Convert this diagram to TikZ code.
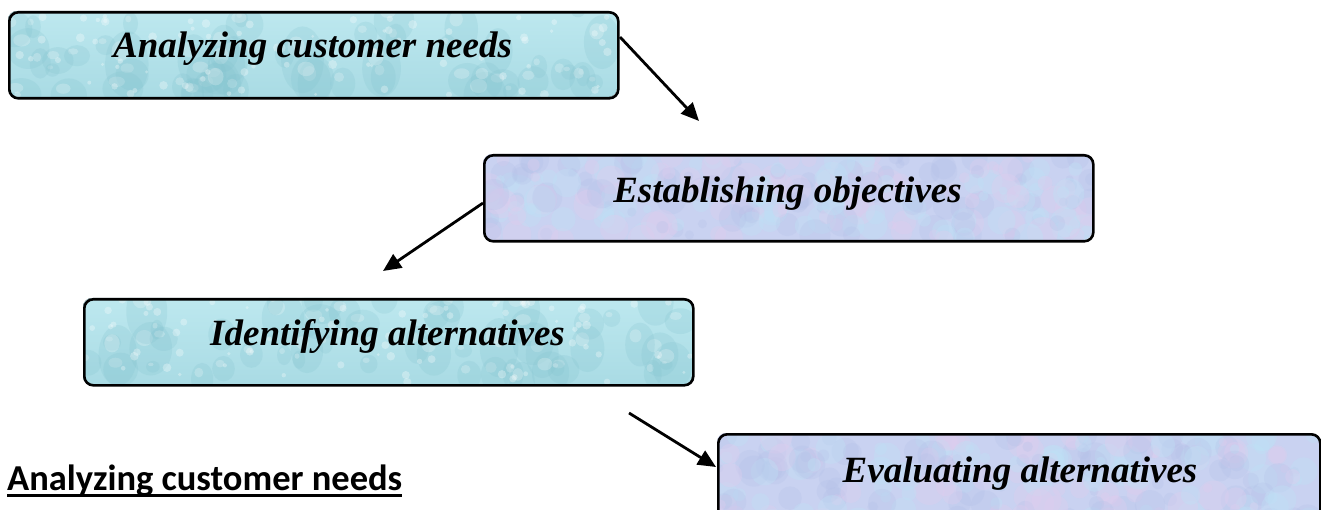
\documentclass[tikz,border=0pt]{standalone}
\usepackage{fontspec}
\setmainfont{Liberation Serif}
\newfontfamily\headfont{Carlito}
\usetikzlibrary{arrows.meta}

\definecolor{wtop}{HTML}{BDE8EF}
\definecolor{wbot}{HTML}{A9DBE4}
\definecolor{wdrop}{HTML}{82C2CE}
\definecolor{lbase}{HTML}{C9D2F1}
\definecolor{lpink}{HTML}{DFCDEE}
\definecolor{lcyan}{HTML}{BEE2F6}
\definecolor{lblue}{HTML}{B3C0E8}

% water-drop texture inside a rounded box
\newcommand\waterfill[4]{%
  \begin{scope}
    \clip[rounded corners=9pt] (#1,#2) rectangle (#3,#4);
    \fill[top color=wtop, bottom color=wbot] (#1,#2) rectangle (#3,#4);
    \foreach \k in {1,...,55}{%
      \pgfmathsetmacro\px{#1+(#3-#1)*rnd}%
      \pgfmathsetmacro\py{#2+(#4-#2)*rnd}%
      \pgfmathsetmacro\rx{6+16*rnd}%
      \pgfmathsetmacro\ry{\rx*(0.8+0.8*rnd)}%
      \fill[wdrop,opacity=0.22] (\px,\py) ellipse [x radius=\rx pt, y radius=\ry pt];
      \fill[white,opacity=0.22] (\px-0.3*\rx,\py-0.4*\ry) ellipse [x radius=0.4*\rx pt, y radius=0.3*\ry pt];
    }
    \foreach \k in {1,...,80}{%
      \pgfmathsetmacro\px{#1+(#3-#1)*rnd}%
      \pgfmathsetmacro\py{#2+(#4-#2)*rnd}%
      \pgfmathsetmacro\rr{1.5+3*rnd}%
      \fill[white,opacity=0.30] (\px,\py) circle [radius=\rr pt];
    }
  \end{scope}}

% pastel marble texture inside a rounded box
\newcommand\marblefill[4]{%
  \begin{scope}
    \clip[rounded corners=9pt] (#1,#2) rectangle (#3,#4);
    \fill[lbase] (#1,#2) rectangle (#3,#4);
    \foreach \k in {1,...,260}{%
      \pgfmathsetmacro\px{#1+(#3-#1)*rnd}%
      \pgfmathsetmacro\py{#2+(#4-#2)*rnd}%
      \pgfmathsetmacro\rr{4+12*rnd}%
      \pgfmathsetmacro\cc{int(3*rnd)}%
      \ifcase\cc
        \fill[lpink,opacity=0.35] (\px,\py) circle [radius=\rr pt];
      \or
        \fill[lcyan,opacity=0.35] (\px,\py) circle [radius=\rr pt];
      \else
        \fill[lblue,opacity=0.25] (\px,\py) circle [radius=\rr pt];
      \fi
    }
  \end{scope}}

\begin{document}
\begin{tikzpicture}[x=1pt,y=-1pt,
  stepbox/.style={draw=black, line width=2.6pt, rounded corners=9pt,
    anchor=north west, inner sep=0pt, minimum height=86pt},
  title/.style={font=\fontsize{37}{42}\selectfont\bfseries\itshape,
    inner sep=0pt, anchor=base},
  flow/.style={line width=2.8pt, -{Triangle[length=18pt,width=16pt]}},
  heading/.style={font=\headfont\bfseries\fontsize{36.5}{42}\selectfont,
    inner sep=0pt, anchor=base west}]
\useasboundingbox (0,0) rectangle (1321,510);
\clip (0,0) rectangle (1321,510);
\pgfmathsetseed{12}

% box fills
\waterfill{8}{11}{617}{97}
\marblefill{483}{154}{1092}{240}
\waterfill{83}{298}{692}{385}
\marblefill{717}{433}{1319}{530}

% box outlines
\node[stepbox, minimum width=609pt] (b1) at (8,11) {};
\node[stepbox, minimum width=609pt] (b2) at (483,154) {};
\node[stepbox, minimum width=609pt] (b3) at (83,298) {};
\node[stepbox, minimum width=602pt, minimum height=97pt] (b4) at (717,433) {};

% box titles
\node[title] (t1) at (312.5,58) {Analyzing customer needs};
\node[title] (t2) at (787.5,203) {Establishing objectives};
\node[title] (t3) at (387.5,345) {Identifying alternatives};
\node[title] (t4) at (1020,482) {Evaluating alternatives};

% arrows between the steps
\coordinate (a1s) at (620,37);
\coordinate (a1e) at (699,121);
\coordinate (a2s) at (483,203);
\coordinate (a2e) at (383,271);
\coordinate (a3s) at (629,413);
\coordinate (a3e) at (716,467);
\draw[flow] (a1s) -- (a1e);
\draw[flow] (a2s) -- (a2e);
\draw[flow] (a3s) -- (a3e);

% section heading
\node[heading] (h) at (7,490) {Analyzing customer needs};
\draw[line width=2.4pt] ([yshift=-5.5pt]h.base west) -- ([yshift=-5.5pt]h.base east);
\end{tikzpicture}
\end{document}
